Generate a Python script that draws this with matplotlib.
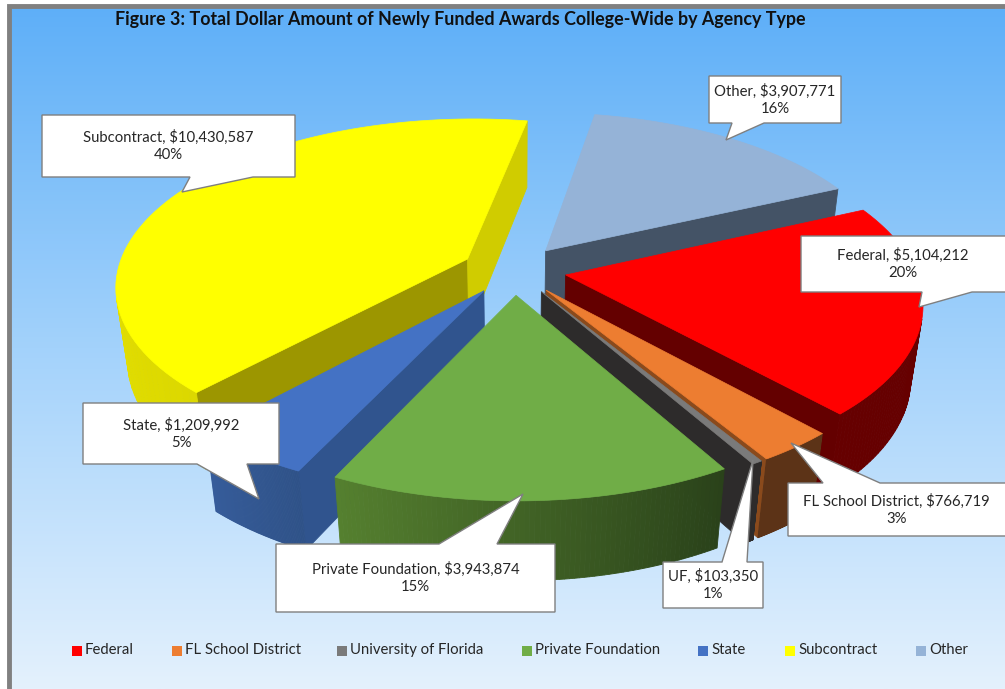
import numpy as np
import matplotlib
matplotlib.use("Agg")
import matplotlib.pyplot as plt

plt.rcParams['font.family'] = ['Lato', 'DejaVu Sans']

# data
categories = ['Federal', 'FL School District', 'University of Florida', 'Private Foundation', 'State', 'Subcontract', 'Other']
amounts = [5104212, 766719, 103350, 3943874, 1209992, 10430587, 3907771]
top_colors = ['#ff0000', '#ed7d31', '#7a7a7a', '#70ad47', '#4472c4', '#ffff00', '#95b3d7']
rim_colors = [('#660000', '#660000'), ('#5c3317', '#5c3317'), ('#2d2b2b', '#2d2b2b'),
              ('#2a421a', '#55802f'), ('#2f5288', '#365c9a'), ('#dcd800', '#f5f000'), ('#44546a', '#44546a')]
wall_colors = [('#640000', '#640000'), ('#8a4a1c', '#5c3317'), ('#2d2b2b', '#2d2b2b'),
               ('#2a421a', '#55802f'), ('#30548e', '#30548e'), ('#d0cc00', '#9c9600'), ('#445366', '#445366')]
draw_order = [6, 5, 0, 1, 2, 4, 3]

title = 'Figure 3: Total Dollar Amount of Newly Funded Awards College-Wide by Agency Type'
callouts = [
    ('Federal, $5,104,212\n20%', (801, 236, 1006, 292), [(922, 292), (919, 307), (972, 292)]),
    ('FL School District, $766,719\n3%', (788, 483, 1006, 536), [(823, 483), (791, 443), (880, 483)]),
    ('UF, $103,350\n1%', (663, 562, 763, 608), [(722, 562), (753, 460), (747, 562)]),
    ('Private Foundation, $3,943,874\n15%', (276, 544, 555, 612), [(439, 544), (523, 494), (497, 544)]),
    ('State, $1,209,992\n5%', (83, 403, 279, 464), [(197, 464), (259, 499), (247, 464)]),
    ('Subcontract, $10,430,587\n40%', (42, 115, 295, 177), [(190, 177), (182, 192), (253, 177)]),
    ('Other, $3,907,771\n16%', (709, 76, 841, 123), [(732, 123), (726, 140), (764, 123)]),
]
legend_x = [72, 172, 337, 522, 698, 785, 916]

# perspective of the pie
cx, cy = 514, 270
K, k, c, h, e = 350, 165, 0.155, 75, 0.03
explode = 0.15
start_angle = 24.5


def project(x, y, z):
    w = 1 + c * y + e * z
    return cx + K * x / w, cy + (-k * y + h * z) / w


def mix(c1, c2, t):
    a = np.array(matplotlib.colors.to_rgb(c1))
    b = np.array(matplotlib.colors.to_rgb(c2))
    return tuple(a + (b - a) * t)


def wall(ax, p, q, col):
    # p, q are world points on top, in clockwise order
    pts = [project(p[0], p[1], 0), project(q[0], q[1], 0), project(q[0], q[1], 1), project(p[0], p[1], 1)]
    xs = np.array([a[0] for a in pts])
    ys = np.array([a[1] for a in pts])
    area = np.sum(xs * np.roll(ys, -1) - np.roll(xs, -1) * ys) / 2
    if area < 0:
        ax.fill(xs, ys, color=col, lw=0.6)


fig = plt.figure(figsize=(10.05, 6.89), dpi=100)
ax = fig.add_axes([0, 0, 1, 1])
ax.set_xlim(0, 1005)
ax.set_ylim(689, 0)
ax.axis('off')

# background
grad = np.linspace(0, 1, 256).reshape(-1, 1)
cmap = matplotlib.colors.LinearSegmentedColormap.from_list('bg', ['#5eaff8', '#a3d2fb', '#e4f1fd'])
ax.imshow(grad, cmap=cmap, extent=(10, 1005, 689, 6), aspect='auto', zorder=0)
ax.plot([9, 9, 1005], [689, 6, 6], color='#808080', lw=3.5, solid_joinstyle='miter', zorder=1)
ax.set_xlim(0, 1005)
ax.set_ylim(689, 0)

# slices
total = sum(amounts)
fracs = np.array(amounts) / total * 360
ends = start_angle - np.cumsum(fracs)
starts = ends + fracs

for i in draw_order:
    t0, t1 = np.radians(starts[i]), np.radians(ends[i])
    mid = (t0 + t1) / 2
    ox, oy = explode * np.cos(mid), explode * np.sin(mid)
    ts = np.linspace(t0, t1, 80)
    rx = ox + np.cos(ts)
    ry = oy + np.sin(ts)
    # radial walls
    wall(ax, (ox, oy), (rx[0], ry[0]), wall_colors[i][1])
    wall(ax, (rx[-1], ry[-1]), (ox, oy), wall_colors[i][0])
    # rim
    for j in range(len(ts) - 1):
        col = mix(rim_colors[i][0], rim_colors[i][1], j / (len(ts) - 2))
        wall(ax, (rx[j], ry[j]), (rx[j + 1], ry[j + 1]), col)
    # top
    sx, sy = project(np.r_[ox, rx], np.r_[oy, ry], 0)
    ax.fill(sx, sy, color=top_colors[i], lw=0.5)

# callouts
for label, box, tail in callouts:
    x0, y0, x1, y1 = box
    a, tip, b = tail
    if a[1] == y0:
        pts = [(x0, y0), a, tip, b, (x1, y0), (x1, y1), (x0, y1)]
    else:
        pts = [(x0, y0), (x1, y0), (x1, y1), b, tip, a, (x0, y1)]
    ax.fill([p[0] for p in pts], [p[1] for p in pts], facecolor='white', edgecolor='#7f7f7f', lw=1, zorder=5)
    ax.text((x0 + min(x1, 1005)) / 2, (y0 + y1) / 2, label, ha='center', va='center', fontsize=10.7,
            color='#262626', linespacing=1.3, zorder=6)

# legend
for name, col, x in zip(categories, top_colors, legend_x):
    ax.scatter([x + 4.5], [651], marker='s', s=62, color=col, linewidths=0, zorder=4)
    ax.text(x + 13, 650, name, ha='left', va='center', fontsize=10.7, color='#262626', zorder=4)

ax.text(460, 19, title, ha='center', va='center', fontsize=12.9, fontweight='bold', color='#111111', zorder=4)

fig.savefig('out.png', dpi=100)
